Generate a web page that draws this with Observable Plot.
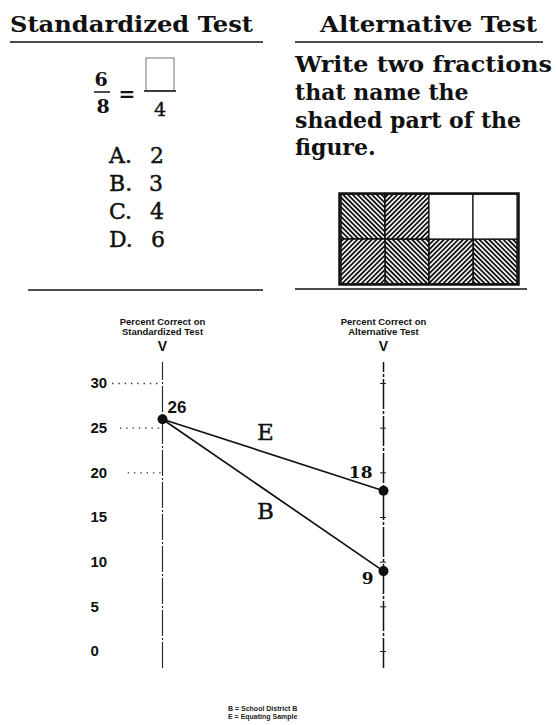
<!DOCTYPE html>
<html><head><meta charset="utf-8">
<script src="https://cdn.jsdelivr.net/npm/d3@7"></script>
<script src="https://cdn.jsdelivr.net/npm/@observablehq/plot@0.6"></script>
<style>
body{margin:0;background:#fff;}
#page{position:relative;width:556px;height:725px;overflow:hidden;background:#fff;}
.abs{position:absolute;}
#legend{font-family:"Liberation Sans",sans-serif;font-weight:bold;font-size:7px;line-height:8px;color:#222;}
</style></head><body>
<div id="page">
<svg id="top" class="abs" style="left:0;top:0" width="556" height="300">
  <defs>
    <pattern id="hatchBack" patternUnits="userSpaceOnUse" width="3.4" height="10" patternTransform="rotate(-45)">
      <rect width="3.4" height="10" fill="#fff"/>
      <line x1="1.7" y1="0" x2="1.7" y2="10" stroke="#111" stroke-width="1.8"/>
    </pattern>
    <pattern id="hatchFwd" patternUnits="userSpaceOnUse" width="3.4" height="10" patternTransform="rotate(45)">
      <rect width="3.4" height="10" fill="#fff"/>
      <line x1="1.7" y1="0" x2="1.7" y2="10" stroke="#111" stroke-width="1.8"/>
    </pattern>
  </defs>
  <g font-family="'DejaVu Serif', serif" fill="#111">
    <text x="10" y="32" font-size="22" font-weight="bold" textLength="243" lengthAdjust="spacingAndGlyphs">Standardized Test</text>
    <line x1="10" x2="263" y1="42" y2="42" stroke="#111" stroke-width="1.5"/>
    <text x="320" y="32" font-size="22" font-weight="bold" textLength="217" lengthAdjust="spacingAndGlyphs">Alternative Test</text>
    <line x1="295" x2="543" y1="42" y2="42" stroke="#111" stroke-width="1.5"/>

    <text x="101" y="86" font-size="19" font-weight="bold" text-anchor="middle">6</text>
    <line x1="94" x2="110" y1="92" y2="92" stroke="#111" stroke-width="1.5"/>
    <text x="103" y="113" font-size="19" font-weight="bold" text-anchor="middle">8</text>
    <text x="127" y="101" font-size="20" font-weight="bold" text-anchor="middle">=</text>
    <rect x="146" y="58" width="28" height="33" fill="none" stroke="#777" stroke-width="1"/>
    <line x1="144" x2="176" y1="91" y2="91" stroke="#111" stroke-width="1.5"/>
    <text x="160" y="116" font-size="19" text-anchor="middle" stroke="#111" stroke-width="0.4">4</text>

    <g font-size="22" stroke="#111" stroke-width="0.45">
      <text x="109" y="163">A.</text><text x="150" y="163">2</text>
      <text x="109" y="191">B.</text><text x="149" y="191">3</text>
      <text x="109" y="219">C.</text><text x="150" y="219">4</text>
      <text x="109" y="247">D.</text><text x="151" y="247">6</text>
    </g>
    <line x1="28" x2="263" y1="290" y2="290" stroke="#111" stroke-width="1.5"/>

    <g font-size="22" font-weight="bold">
      <text x="295" y="72" textLength="257" lengthAdjust="spacingAndGlyphs">Write two fractions</text>
      <text x="295" y="100">that name the</text>
      <text x="295" y="128">shaded part of the</text>
      <text x="295" y="155">figure.</text>
    </g>
    <line x1="295" x2="527" y1="289" y2="289" stroke="#111" stroke-width="1.5"/>
  </g>
</svg>
<div id="fig" class="abs" style="left:339px;top:193px"></div>
<div id="chart" class="abs" style="left:0;top:300px"></div>
<div id="legend" class="abs" style="left:228px;top:705px"></div>
</div>
<script>
// ---- fraction figure data ----
const figCols = [0, 1, 2, 3];
const figRows = [0, 1];
const shadedCells = [
  {col: 0, row: 0, hatch: "back"},
  {col: 1, row: 0, hatch: "fwd"},
  {col: 0, row: 1, hatch: "fwd"},
  {col: 1, row: 1, hatch: "back"},
  {col: 2, row: 1, hatch: "fwd"},
  {col: 3, row: 1, hatch: "back"}
];
const emptyCells = [
  {col: 2, row: 0},
  {col: 3, row: 0}
];

// ---- chart data ----
const tests = ["Standardized Test", "Alternative Test"];
const testPos = [0, 1];
const seriesNames = ["E", "B"];
const standardizedValues = [26, 26];
const alternativeValues = [18, 9];
const yTicks = [0, 5, 10, 15, 20, 25, 30];
const leaderTicks = [30, 25, 20];
const leaderStarts = [-0.226, -0.19, -0.155];
const axisExtent = [-1.9, 32.35];
const legendLines = ["B = School District B", "E = Equating Sample"];

// fraction figure
const fig = Plot.plot({
  width: 179, height: 91,
  margin: 0,
  x: {type: "band", domain: figCols, padding: 0, axis: null},
  y: {type: "band", domain: figRows, padding: 0, axis: null},
  marks: [
    Plot.cell(shadedCells.filter(d => d.hatch === "back"), {x: "col", y: "row", fill: "url(#hatchBack)", stroke: "#111", strokeWidth: 1.5}),
    Plot.cell(shadedCells.filter(d => d.hatch === "fwd"), {x: "col", y: "row", fill: "url(#hatchFwd)", stroke: "#111", strokeWidth: 1.5}),
    Plot.cell(emptyCells, {x: "col", y: "row", fill: "#fff", stroke: "#111", strokeWidth: 1.2}),
    Plot.frame({stroke: "#111", strokeWidth: 2.5})
  ]
});
fig.style.overflow = "visible";
document.getElementById("fig").appendChild(fig);

// chart
const lineData = [];
seriesNames.forEach((s, i) => {
  lineData.push({series: s, x: testPos[0], y: standardizedValues[i]});
  lineData.push({series: s, x: testPos[1], y: alternativeValues[i]});
});
const pointData = [
  {x: testPos[0], y: standardizedValues[0]},
  {x: testPos[1], y: alternativeValues[0]},
  {x: testPos[1], y: alternativeValues[1]}
];
const labelT = 0.466;
const seriesLabels = seriesNames.map((s, i) => ({
  s, x: labelT,
  y: standardizedValues[i] + (alternativeValues[i] - standardizedValues[i]) * labelT
}));

const font = "'Liberation Sans', sans-serif";
const serif = "'DejaVu Serif', serif";
const chart = Plot.plot({
  width: 556, height: 380,
  marginLeft: 162, marginRight: 173, marginTop: 83, marginBottom: 29,
  x: {domain: [0, 1], axis: null},
  y: {domain: [0, 30], axis: null},
  style: {background: "transparent", color: "#111"},
  marks: [
    // vertical axes
    Plot.ruleX([testPos[0]], {y1: axisExtent[0], y2: axisExtent[1], stroke: "#222", strokeWidth: 1.1, strokeDasharray: "26,2,2,2"}),
    Plot.ruleX([testPos[1]], {y1: axisExtent[0], y2: axisExtent[1], stroke: "#111", strokeWidth: 1.5, strokeDasharray: "30,2,3,2"}),
    // dotted leaders
    Plot.ruleY(leaderTicks.map((v, i) => ({v, from: leaderStarts[i]})), {y: "v", x1: "from", x2: 0, stroke: "#222", strokeWidth: 1.3, strokeDasharray: "1.3,5"}),
    // right axis ticks
    Plot.ruleY(yTicks, {x1: testPos[1], x2: testPos[1], insetLeft: -3, insetRight: -3, stroke: "#222", strokeWidth: 1}),
    // tick labels
    Plot.text(yTicks, {y: d => d, frameAnchor: "left", dx: -72, textAnchor: "start", text: d => String(d), fontFamily: font, fontWeight: "bold", fontSize: 15}),
    // axis titles
    Plot.text(tests, {x: (d, i) => testPos[i], frameAnchor: "top", dy: -62, text: () => "Percent Correct on", fontFamily: font, fontWeight: "bold", fontSize: 9.5, lineAnchor: "middle"}),
    Plot.text(tests, {x: (d, i) => testPos[i], frameAnchor: "top", dy: -51.5, text: d => d, fontFamily: font, fontWeight: "bold", fontSize: 9.5, lineAnchor: "middle"}),
    Plot.text(tests, {x: (d, i) => testPos[i], frameAnchor: "top", dy: -37, text: () => "V", fontFamily: font, fontWeight: "bold", fontSize: 14, lineAnchor: "middle"}),
    // lines
    Plot.line(lineData, {x: "x", y: "y", z: "series", stroke: "#111", strokeWidth: 1.7}),
    Plot.dot(pointData, {x: "x", y: "y", r: 5, fill: "#111", stroke: "none"}),
    // value labels
    Plot.text([pointData[0]], {x: "x", y: "y", text: d => String(d.y), dx: 5, dy: -12, textAnchor: "start", fontFamily: font, fontWeight: "bold", fontSize: 17}),
    Plot.text([pointData[1]], {x: "x", y: "y", text: d => String(d.y), dx: -11, dy: -18, textAnchor: "end", fontFamily: serif, fontWeight: "bold", fontSize: 17}),
    Plot.text([pointData[2]], {x: "x", y: "y", text: d => String(d.y), dx: -10, dy: 7, textAnchor: "end", fontFamily: serif, fontWeight: "bold", fontSize: 17}),
    // series letters
    Plot.text([seriesLabels[0]], {x: "x", y: "y", text: "s", dy: -20, fontFamily: serif, fontSize: 23, fill: "#111", stroke: "#111", strokeWidth: 0.4, paintOrder: "normal"}),
    Plot.text([seriesLabels[1]], {x: "x", y: "y", text: "s", dy: 22, fontFamily: serif, fontSize: 23, fill: "#111", stroke: "#111", strokeWidth: 0.4, paintOrder: "normal"})
  ]
});
chart.style.overflow = "visible";
document.getElementById("chart").appendChild(chart);
document.getElementById("legend").innerHTML = legendLines.join("<br>");
</script>
</body></html>
